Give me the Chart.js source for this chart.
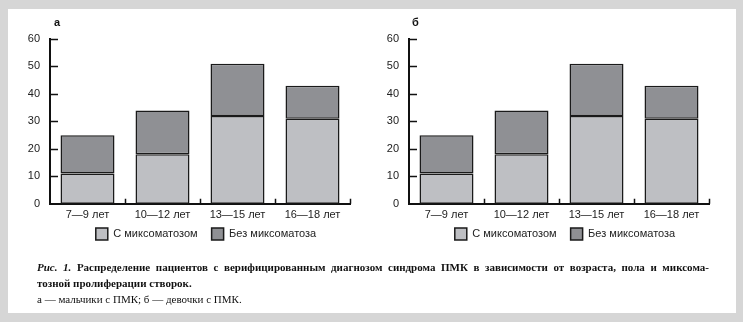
<!DOCTYPE html>
<html>
<head>
<meta charset="utf-8">
<script src="https://cdn.jsdelivr.net/npm/chart.js@4.4.1/dist/chart.umd.min.js"></script>
<style>
body { margin: 0; width: 743px; height: 322px; background: #d6d6d6; position: relative; overflow: hidden; font-family: "Liberation Sans", Arial, sans-serif; }
#panel { position: absolute; left: 8px; top: 9px; width: 728px; height: 304px; background: #fff; }
canvas { position: absolute; top: 0; }
#ca { left: 0; }
#cb { left: 359px; }
.tag { position: absolute; top: 16px; font: bold 11px "Liberation Sans", Arial, sans-serif; color: #111; }
#caption { position: absolute; left: 37px; top: 259px; width: 672px; font: 11px/16px "Liberation Serif", "Times New Roman", serif; color: #111; }
#caption .l1 { font-weight: bold; text-align: justify; text-align-last: justify; white-space: nowrap; }
#caption .l2 { font-weight: bold; }
</style>
</head>
<body>
<div id="panel"></div>
<canvas id="ca" width="359" height="263"></canvas>
<canvas id="cb" width="370" height="263"></canvas>
<div class="tag" style="left:54px">а</div>
<div class="tag" style="left:412px">б</div>
<div id="caption">
  <div class="l1"><i>Рис. 1.</i> Распределение пациентов с верифицированным диагнозом синдрома ПМК в зависимости от возраста, пола и миксома-</div>
  <div class="l2">тозной пролиферации створок.</div>
  <div>а — мальчики с ПМК; б — девочки с ПМК.</div>
</div>
<script>
// data (both panels look the same)
var ageGroups = ['7—9 лет', '10—12 лет', '13—15 лет', '16—18 лет'];
var withMyxo = [11, 18, 32, 31];
var withoutMyxo = [14, 16, 19, 12];
var seriesNames = ['С миксоматозом', 'Без миксоматоза'];
var yTicksMax = 60;

var innerTicks = {
    id: 'innerTicks',
    afterLayout: function (chart) {
        // legend sits closer to the axis and a bit right of centre in the original
        chart.legend.left += 6;
        chart.legend.right += 6;
        chart.legend.top -= 13;
        chart.legend.bottom -= 13;
    },
    // tick marks pointing into the plot
    afterDatasetsDraw: function (chart) {
        var ctx = chart.ctx, x = chart.scales.x, y = chart.scales.y;
        ctx.save();
        ctx.strokeStyle = '#111';
        ctx.lineWidth = 1.5;
        ctx.beginPath();
        y.ticks.forEach(function (t, i) {
            if (i === 0) return;
            var py = Math.round(y.getPixelForTick(i)) + 0.5;
            ctx.moveTo(y.right, py);
            ctx.lineTo(y.right + 8, py);
        });
        for (var i = 1; i <= x.ticks.length; i++) {
            var px = i < x.ticks.length ? (x.getPixelForTick(i - 1) + x.getPixelForTick(i)) / 2 : x.right;
            px = Math.round(px) + 0.5;
            ctx.moveTo(px, x.top);
            ctx.lineTo(px, x.top - 5);
        }
        ctx.stroke();
        ctx.restore();
    }
};

function makeChart(id, rightPad) {
    return new Chart(id, {
        type: 'bar',
        plugins: [innerTicks],
        data: {
            labels: ageGroups,
            datasets: [
                {
                    label: seriesNames[0],
                    data: withMyxo,
                    backgroundColor: '#bebfc3',
                    borderColor: '#1a1a1a',
                    borderWidth: 1.5,
                    borderSkipped: false
                },
                {
                    label: seriesNames[1],
                    data: withoutMyxo,
                    backgroundColor: '#8f9094',
                    borderColor: '#1a1a1a',
                    borderWidth: 1.5,
                    borderSkipped: false
                }
            ]
        },
        options: {
            responsive: false,
            animation: false,
            devicePixelRatio: 1,
            layout: { padding: { top: 39, right: rightPad, left: 0, bottom: 0 } },
            plugins: {
                tooltip: { enabled: false },
                legend: {
                    position: 'bottom',
                    fullSize: false,
                    labels: {
                        boxWidth: 12,
                        boxHeight: 12,
                        padding: 14,
                        color: '#222',
                        font: { family: 'Liberation Sans', size: 11 }
                    }
                }
            },
            scales: {
                x: {
                    stacked: true,
                    categoryPercentage: 1,
                    barPercentage: 0.63,
                    grid: { display: false, drawTicks: false },
                    border: { display: true, color: '#111', width: 2 },
                    ticks: { color: '#222', padding: 5, font: { family: 'Liberation Sans', size: 11 } }
                },
                y: {
                    stacked: true,
                    min: 0,
                    max: yTicksMax,
                    grid: { display: false, drawTicks: false },
                    border: { display: true, color: '#111', width: 2 },
                    ticks: { stepSize: 10, color: '#222', padding: 10, font: { family: 'Liberation Sans', size: 11 } },
                    afterFit: function (s) { s.width = 50; }
                }
            }
        }
    });
}

makeChart('ca', 9);
makeChart('cb', 20);
</script>
</body>
</html>
